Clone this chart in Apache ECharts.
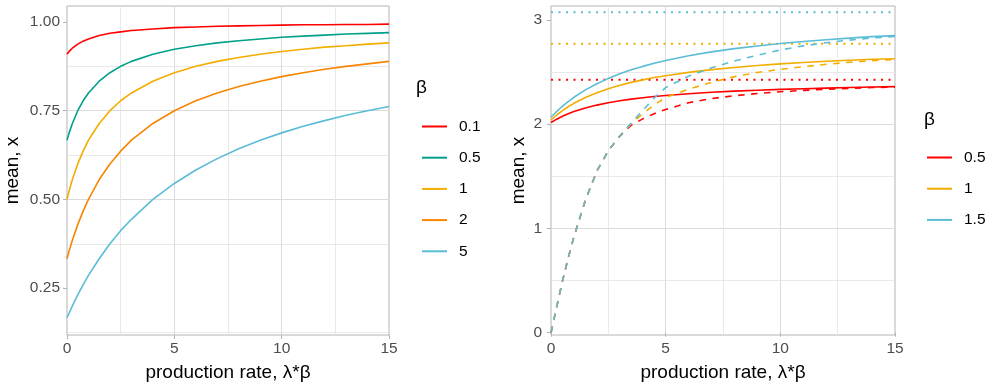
<!DOCTYPE html>
<html><head><meta charset="utf-8">
<script src="https://cdn.jsdelivr.net/npm/echarts@6/dist/echarts.min.js"></script>
<style>html,body{margin:0;padding:0;background:#fff}#c{width:992px;height:388px}</style>
</head><body><div id="c"></div>
<script>
// ---------- left panel ----------
const rateLeft = [0, 0.1, 0.25, 0.5, 0.75, 1, 1.5, 2, 2.5, 3, 4, 5, 6, 7, 8, 9, 10, 11, 12, 13, 14, 15];
const betaLeft = ['0.1', '0.5', '1', '2', '5'];
const meanB01 = [0.909, 0.917, 0.926, 0.9375, 0.946, 0.952, 0.962, 0.968, 0.972, 0.976, 0.980, 0.984, 0.986, 0.988, 0.989, 0.990, 0.991, 0.992, 0.992, 0.993, 0.993, 0.994];
const meanB05 = [0.667, 0.6875, 0.714, 0.75, 0.778, 0.8, 0.833, 0.857, 0.875, 0.889, 0.909, 0.923, 0.933, 0.941, 0.947, 0.952, 0.957, 0.96, 0.963, 0.966, 0.968, 0.970];
const meanB1 = [0.5, 0.524, 0.556, 0.6, 0.636, 0.667, 0.714, 0.75, 0.778, 0.8, 0.833, 0.857, 0.875, 0.889, 0.9, 0.909, 0.917, 0.923, 0.929, 0.933, 0.9375, 0.941];
const meanB2 = [0.333, 0.355, 0.385, 0.429, 0.467, 0.5, 0.556, 0.6, 0.636, 0.667, 0.714, 0.75, 0.778, 0.8, 0.818, 0.833, 0.846, 0.857, 0.867, 0.875, 0.882, 0.889];
const meanB5 = [0.167, 0.180, 0.2, 0.231, 0.259, 0.286, 0.333, 0.375, 0.412, 0.444, 0.5, 0.545, 0.583, 0.615, 0.643, 0.667, 0.6875, 0.706, 0.722, 0.737, 0.75, 0.762];
const yTicksLeft = [0.25, 0.5, 0.75, 1.0];

// ---------- right panel ----------
const rateRight = [0, 0.25, 0.5, 0.75, 1, 1.5, 2, 2.5, 3, 3.5, 4, 4.5, 5, 6, 7, 8, 9, 10, 11, 12, 13, 14, 15];
const betaRight = ['0.5', '1', '1.5'];
const solidB05 = [2.015, 2.047, 2.075, 2.099, 2.120, 2.155, 2.182, 2.205, 2.223, 2.239, 2.253, 2.264, 2.274, 2.291, 2.305, 2.316, 2.325, 2.333, 2.339, 2.345, 2.350, 2.355, 2.359];
const solidB1 = [2.040, 2.087, 2.129, 2.166, 2.199, 2.255, 2.301, 2.339, 2.372, 2.400, 2.424, 2.446, 2.464, 2.496, 2.522, 2.543, 2.561, 2.577, 2.590, 2.602, 2.612, 2.621, 2.627];
const solidB15 = [2.065, 2.121, 2.171, 2.216, 2.257, 2.328, 2.387, 2.438, 2.482, 2.520, 2.553, 2.583, 2.609, 2.655, 2.692, 2.723, 2.749, 2.772, 2.792, 2.809, 2.824, 2.838, 2.848];
const dashedB05 = [0, 0.25, 0.495, 0.717, 0.92, 1.27, 1.55, 1.745, 1.885, 1.99, 2.05, 2.10, 2.14, 2.205, 2.245, 2.272, 2.293, 2.31, 2.323, 2.334, 2.343, 2.35, 2.355];
const dashedB1 = [0, 0.25, 0.495, 0.717, 0.92, 1.27, 1.55, 1.745, 1.885, 2.005, 2.10, 2.185, 2.255, 2.335, 2.40, 2.455, 2.495, 2.525, 2.55, 2.573, 2.593, 2.608, 2.62];
const dashedB15 = [0, 0.25, 0.495, 0.717, 0.92, 1.27, 1.55, 1.745, 1.885, 2.01, 2.13, 2.25, 2.35, 2.46, 2.54, 2.605, 2.66, 2.71, 2.75, 2.78, 2.805, 2.825, 2.84];
const limitB05 = 2.425, limitB1 = 2.77, limitB15 = 3.073;
const yTicksRight = [0, 1, 2, 3];
const xTicks = [0, 5, 10, 15];

const colLeft = ['#FF0000', '#00A08A', '#F2AD00', '#F98400', '#5BBCD6'];
const colRight = ['#FF0000', '#F2AD00', '#5BBCD6'];
const FONT = '"Liberation Sans", Arial, Helvetica, sans-serif';

function pairs(xs, ys) { return xs.map((x, i) => [x, ys[i]]); }

const gridLine = { show: true, showMinLine: false, showMaxLine: false, lineStyle: { color: '#dcdcdc', width: 1.1 } };
const minorLine = { show: true, lineStyle: { color: '#e3e3e3', width: 0.8 } };
const tickStyle = { color: '#b3b3b3', width: 1 };

function xAxisCfg(gi) {
  return {
    type: 'value', gridIndex: gi, min: 0, max: 15, interval: 5,
    name: 'production rate, λ*β', nameLocation: 'middle', nameGap: 28,
    nameTextStyle: { fontSize: 19, color: '#000', fontFamily: FONT },
    axisLine: { show: false },
    axisTick: { show: true, length: 4, lineStyle: tickStyle, customValues: xTicks },
    axisLabel: { fontSize: 15.5, color: '#4d4d4d', margin: 6, fontFamily: FONT, customValues: xTicks },
    splitLine: gridLine,
    minorTick: { show: false, splitNumber: 2 },
    minorSplitLine: minorLine
  };
}

const leftSeries = [meanB01, meanB05, meanB1, meanB2, meanB5].map((d, i) => ({
  type: 'line', name: 'L' + betaLeft[i], xAxisIndex: 0, yAxisIndex: 0,
  data: pairs(rateLeft, d), showSymbol: false, smooth: false,
  lineStyle: { color: colLeft[i], width: 1.6 }, itemStyle: { color: colLeft[i] }
}));

const limits = [limitB05, limitB1, limitB15];
const dottedSeries = limits.map((v, i) => ({
  type: 'line', name: 'limit ' + betaRight[i], xAxisIndex: 1, yAxisIndex: 1,
  data: [[0, v], [15, v]], showSymbol: false,
  lineStyle: { color: colRight[i], width: 2, type: [2, 5.5] }, itemStyle: { color: colRight[i] }
}));
const solidSeries = [solidB05, solidB1, solidB15].map((d, i) => ({
  type: 'line', name: 'R' + betaRight[i], xAxisIndex: 1, yAxisIndex: 1,
  data: pairs(rateRight, d), showSymbol: false, smooth: false,
  lineStyle: { color: colRight[i], width: 1.6 }, itemStyle: { color: colRight[i] }
}));
const dashedSeries = [dashedB05, dashedB1, dashedB15].map((d, i) => ({
  type: 'line', name: 'approx ' + betaRight[i], xAxisIndex: 1, yAxisIndex: 1,
  data: pairs(rateRight, d), showSymbol: false, smooth: false,
  lineStyle: { color: colRight[i], width: 1.6, type: [6.5, 6.5] }, itemStyle: { color: colRight[i] }
}));

const legendCommon = {
  orient: 'vertical', icon: 'rect', itemWidth: 25, itemHeight: 2, itemGap: 15.2, padding: 0,
  textStyle: { fontSize: 15.5, color: '#000', fontFamily: FONT, padding: [0, 0, 0, 7] },
  selectedMode: false,
  formatter: n => n.slice(1)
};
const betaTitle = { fontSize: 19, fontWeight: 'normal', color: '#000', fontFamily: FONT };

const option = {
  animation: false,
  textStyle: { fontFamily: FONT },
  title: [
    { text: 'β', left: 416, top: 78.5, padding: 0, textStyle: betaTitle },
    { text: 'β', left: 924, top: 110.5, padding: 0, textStyle: betaTitle }
  ],
  legend: [
    Object.assign({ left: 422, top: 118.5, data: betaLeft.map(b => 'L' + b) }, legendCommon),
    Object.assign({ left: 927, top: 149.5, data: betaRight.map(b => 'R' + b) }, legendCommon)
  ],
  grid: [
    { left: 67, top: 6, width: 322, height: 329, show: true, borderColor: '#b3b3b3', borderWidth: 1, backgroundColor: 'transparent' },
    { left: 551, top: 6, width: 344, height: 329, show: true, borderColor: '#b3b3b3', borderWidth: 1, backgroundColor: 'transparent' }
  ],
  xAxis: [xAxisCfg(0), xAxisCfg(1)],
  yAxis: [
    {
      type: 'value', gridIndex: 0, min: 0.118, max: 1.045, minInterval: 0.25, maxInterval: 0.25, splitNumber: 4,
      name: 'mean, x', nameLocation: 'middle', nameGap: 45,
      nameTextStyle: { fontSize: 19, color: '#000', fontFamily: FONT },
      axisLine: { show: false },
      axisTick: { show: true, length: 4, lineStyle: tickStyle, customValues: yTicksLeft },
      axisLabel: { fontSize: 15.5, color: '#4d4d4d', margin: 7, fontFamily: FONT, customValues: yTicksLeft, formatter: v => v.toFixed(2) },
      splitLine: gridLine,
      minorTick: { show: false, splitNumber: 2 },
      minorSplitLine: minorLine
    },
    {
      type: 'value', gridIndex: 1, min: -0.022, max: 3.132, minInterval: 1, maxInterval: 1, splitNumber: 3,
      name: 'mean, x', nameLocation: 'middle', nameGap: 23,
      nameTextStyle: { fontSize: 19, color: '#000', fontFamily: FONT },
      axisLine: { show: false },
      axisTick: { show: true, length: 4, lineStyle: tickStyle, customValues: yTicksRight },
      axisLabel: { fontSize: 15.5, color: '#4d4d4d', margin: 9, fontFamily: FONT, customValues: yTicksRight, formatter: v => String(Math.round(v)) },
      splitLine: gridLine,
      minorTick: { show: false, splitNumber: 2 },
      minorSplitLine: minorLine
    }
  ],
  series: [].concat(leftSeries, dottedSeries, solidSeries, dashedSeries)
};

const chart = echarts.init(document.getElementById('c'), null, { renderer: 'canvas' });
chart.setOption(option);
</script>
</body></html>
